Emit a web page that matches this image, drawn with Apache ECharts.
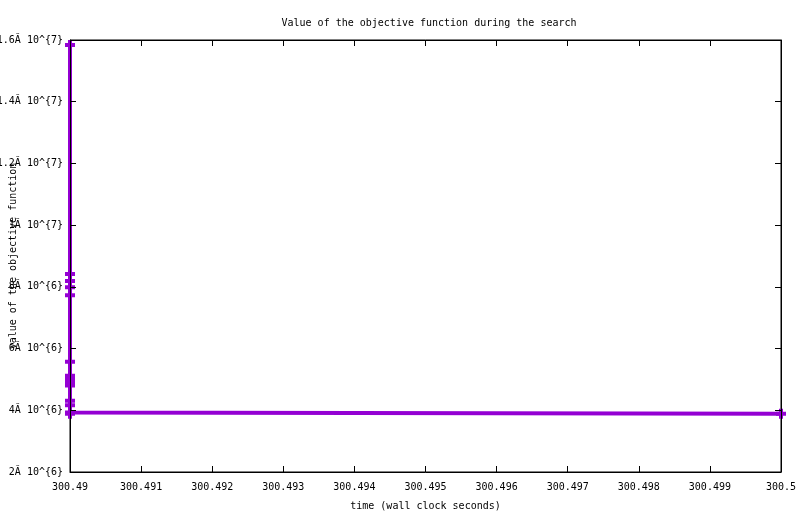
<!DOCTYPE html>
<html>
<head>
<meta charset="utf-8">
<script src="https://cdn.jsdelivr.net/npm/echarts@6/dist/echarts.min.js"></script>
<style>html,body{margin:0;padding:0;background:#fff}#c{width:800px;height:514px}</style>
</head>
<body>
<div id="c"></div>
<script>
var times = [300.49, 300.49, 300.49, 300.49, 300.49, 300.49, 300.49, 300.49, 300.49, 300.49, 300.49, 300.49, 300.49, 300.49, 300.5];
var values = [15840000, 8420000, 8190000, 7990000, 7730000, 5570000, 5120000, 5010000, 4910000, 4800000, 4310000, 4160000, 3930000, 3890000, 3890000];
var yTickLabels = ['2Ă 10^{6}', '4Ă 10^{6}', '6Ă 10^{6}', '8Ă 10^{6}', '1Ă 10^{7}', '1.2Ă 10^{7}', '1.4Ă 10^{7}', '1.6Ă 10^{7}'];
var xTickLabels = ['300.49', '300.491', '300.492', '300.493', '300.494', '300.495', '300.496', '300.497', '300.498', '300.499', '300.5'];

var FONT = 'DejaVu Sans Mono';
var chart = echarts.init(document.getElementById('c'), null, {renderer: 'canvas'});
var pts = times.map(function (t, i) { return [t, values[i]]; });
var xMin = 300.49, xMax = 300.5, xInt = 0.001;
var yMin = 2000000, yMax = 16000000, yInt = 2000000;
var axisLine = {show: true, lineStyle: {color: '#000', width: 1}};
var tick = {show: true, inside: true, length: 6, lineStyle: {color: '#000', width: 1}};
chart.setOption({
  animation: false,
  backgroundColor: '#fff',
  title: {
    text: 'Value of the objective function during the search',
    left: 424, top: 13, textAlign: 'center',
    textStyle: {fontFamily: FONT, fontSize: 10, fontWeight: 'normal', color: '#000'}
  },
  grid: {left: 70, right: 19, top: 40, bottom: 42, containLabel: false, outerBoundsMode: 'none',
    show: true, borderColor: '#000', borderWidth: 1, backgroundColor: 'transparent'},
  xAxis: [{
    type: 'value', min: xMin, max: xMax, interval: xInt, position: 'bottom',
    name: 'time (wall clock seconds)', nameLocation: 'middle', nameGap: 29, nameMoveOverlap: false,
    nameTextStyle: {fontFamily: FONT, fontSize: 10, color: '#000'},
    axisLine: axisLine, axisTick: tick, splitLine: {show: false},
    axisLabel: {fontFamily: FONT, fontSize: 10, color: '#000', margin: 10,
      formatter: function (v) { return xTickLabels[Math.round((v - xMin) / xInt)]; }}
  }, {
    type: 'value', min: xMin, max: xMax, interval: xInt, position: 'top',
    axisLine: axisLine, axisTick: tick, splitLine: {show: false}, axisLabel: {show: false}
  }],
  yAxis: [{
    type: 'value', min: yMin, max: yMax, interval: yInt, position: 'left', z: 10,
    name: 'value of the objective function', nameLocation: 'middle', nameGap: 52, nameMoveOverlap: false,
    nameTextStyle: {fontFamily: FONT, fontSize: 10, color: '#000'},
    axisLine: axisLine, axisTick: tick, splitLine: {show: false},
    axisLabel: {fontFamily: FONT, fontSize: 10, color: '#000', margin: 7,
      formatter: function (v) { return yTickLabels[Math.round((v - yMin) / yInt)]; }}
  }, {
    type: 'value', min: yMin, max: yMax, interval: yInt, position: 'right', z: 10,
    axisLine: axisLine, axisTick: tick, splitLine: {show: false}, axisLabel: {show: false}
  }],
  series: [{
    type: 'line', data: pts, clip: false, z: 2,
    lineStyle: {color: '#9400D3', width: 4},
    itemStyle: {color: '#9400D3'},
    symbol: 'path://M3,0h4v3h3v4h-3v3h-4v-3h-3v-4h3z',
    symbolSize: 10, showAllSymbol: true
  }]
});
</script>
</body>
</html>
